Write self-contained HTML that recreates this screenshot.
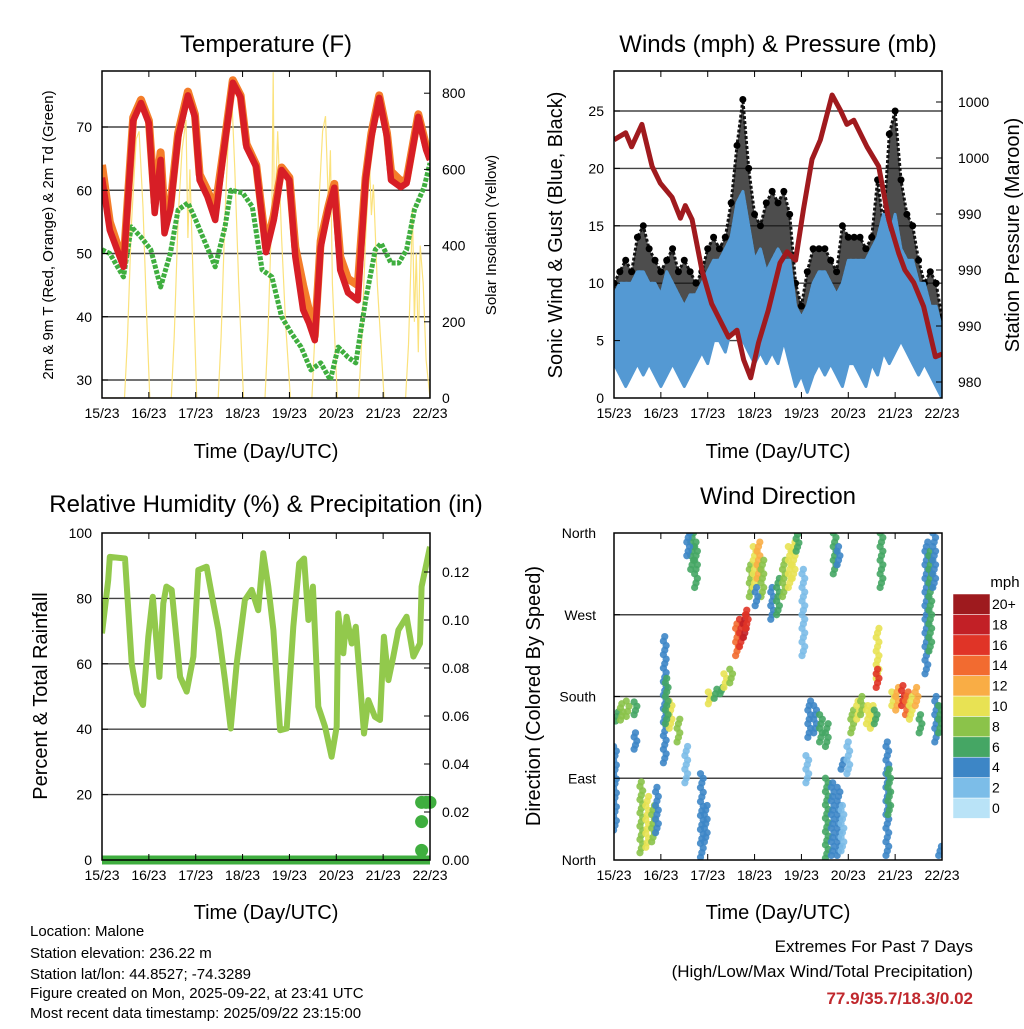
<!DOCTYPE html>
<html><head><meta charset="utf-8"><style>
body{margin:0;background:#fff;width:1024px;height:1024px;overflow:hidden}
svg text{font-family:"Liberation Sans",sans-serif;fill:#000}
</style></head><body>
<svg id="s" width="1024" height="1024" viewBox="0 0 1024 1024" xmlns="http://www.w3.org/2000/svg">
<defs>
<clipPath id="c1"><rect x="102" y="71" width="328" height="327"/></clipPath>
<clipPath id="c2"><rect x="614" y="71" width="328" height="327"/></clipPath>
<clipPath id="c3"><rect x="102" y="533" width="328" height="327"/></clipPath>
<clipPath id="c4"><rect x="614" y="533" width="328" height="327"/></clipPath>
</defs>
<text x="266" y="52" font-size="24" text-anchor="middle">Temperature (F)</text>
<text x="778" y="52" font-size="24" text-anchor="middle">Winds (mph) &amp; Pressure (mb)</text>
<text x="266" y="512" font-size="24" text-anchor="middle">Relative Humidity (%) &amp; Precipitation (in)</text>
<text x="778" y="504" font-size="24" text-anchor="middle">Wind Direction</text>
<text x="266" y="458" font-size="20" text-anchor="middle">Time (Day/UTC)</text>
<text x="778" y="458" font-size="20" text-anchor="middle">Time (Day/UTC)</text>
<text x="266" y="919" font-size="20" text-anchor="middle">Time (Day/UTC)</text>
<text x="778" y="919" font-size="20" text-anchor="middle">Time (Day/UTC)</text>
<text transform="translate(53,235) rotate(-90)" font-size="15" text-anchor="middle">2m &amp; 9m T (Red, Orange) &amp; 2m Td (Green)</text>
<text transform="translate(496,235) rotate(-90)" font-size="15" text-anchor="middle">Solar Insolation (Yellow)</text>
<text transform="translate(562,235) rotate(-90)" font-size="20" text-anchor="middle">Sonic Wind &amp; Gust (Blue, Black)</text>
<text transform="translate(1019,235) rotate(-90)" font-size="20" text-anchor="middle">Station Pressure (Maroon)</text>
<text transform="translate(47,696) rotate(-90)" font-size="20" text-anchor="middle">Percent &amp; Total Rainfall</text>
<text transform="translate(540,696) rotate(-90)" font-size="20" text-anchor="middle">Direction (Colored By Speed)</text>
<text x="1005" y="587" font-size="15" text-anchor="middle">mph</text>
<g font-size="15">
<text x="30" y="936">Location: Malone</text>
<text x="30" y="958">Station elevation: 236.22 m</text>
<text x="30" y="979">Station lat/lon: 44.8527; -74.3289</text>
<text x="30" y="998">Figure created on Mon, 2025-09-22, at 23:41 UTC</text>
<text x="30" y="1018">Most recent data timestamp: 2025/09/22 23:15:00</text>
</g>
<text x="973" y="952" font-size="17" text-anchor="end">Extremes For Past 7 Days</text>
<text x="973" y="977" font-size="17" text-anchor="end">(High/Low/Max Wind/Total Precipitation)</text>
<text x="973" y="1004" font-size="17" font-weight="bold" text-anchor="end" style="fill:#c0282d">77.9/35.7/18.3/0.02</text>
</svg>
<script>
const dayLabels=["15/23","16/23","17/23","18/23","19/23","20/23","21/23","22/23"];
const tempTicks=[30,40,50,60,70];
const solarTicks=[0,200,400,600,800];
const windTicks=[0,5,10,15,20,25];
const pressTicks=[982,986,990,994,998,1002];
const pressTickLabels=["980","990","990","990","1000","1000"];
const rhTicks=[0,20,40,60,80,100];
const rainTicks=[0,0.02,0.04,0.06,0.08,0.10,0.12];
const dirTicks=[0,90,180,270,360];
const dirTickLabels=["North","East","South","West","North"];

const tHours=[0,4,11,16,20,24,27,30,32,35,39,44,47.6,50,54,58,62,67,71,74,79,84,88,92,96,99,103,106,109,112,116,119,122,126,131,135,138,142,146,148,153,156,162,166,168];
const temp2m=[62,53.7,47.9,71,73.8,70.6,56.4,64.8,53.2,56.9,68.4,75,71.6,61.6,59,55.3,65.3,77,74.7,66.8,63.7,50.2,55.3,63.2,61.6,49.5,41.1,39,36.3,51,57,60.4,47.4,43.8,42.6,61.6,68.4,74.6,68.4,61.6,60.5,61.1,71.6,66.4,64.8];
const temp9m=[64,55,48.5,71.5,74.3,71,58,66,56,57.5,69,75.6,72,62.5,60,57,65.8,77.4,75,67.3,64,51,56,63.6,62,51,45,41,37,52,57.5,61,49.5,46,45,62,69,75,69,63,61.5,61.6,72,67,65];
const dHours=[0,4,11,15,20,25,30,35,39,44,48,53,58,63,66,72,77,82,87,92,97,102,107,112,117,121,126,130,135,140,143,148,152,156,160,165,168];
const dewpt=[50.6,50,46.3,54.2,52.6,50.6,44.7,50,56.9,58,55.3,51.6,47.9,54.2,60,59.6,57.4,47.4,46.3,40,37.4,35.2,31.6,32.7,30,35.2,33.6,32.7,42.6,50.6,51.6,48.5,48.5,50.6,56.9,60.5,64.3];
const solarHours=[0,11.5,13,15,17.5,19,21,23,24.5,35.5,37,39,41,43,44,45,47,48.5,59.5,61,63,65,66.5,68,70,72.5,83.5,85,87,87.7,88.3,90,92,94,96.5,107.5,109,111,113,114.5,116,117,118,120.5,131.5,133,135,137,138,139,141,144.5,155.5,157,158.5,159,160,161,162,163,164.5,166,168];
const solarVals=[0,0,150,450,680,700,500,200,0,0,160,470,650,730,420,600,250,0,0,160,480,720,790,600,300,0,0,170,500,855,450,700,420,200,0,0,160,500,700,740,500,650,300,0,0,150,420,620,480,560,300,0,0,140,400,500,200,380,120,400,300,100,0];

const wHours=[0,3,6,9,12,15,18,21,24,27,30,33,36,39,42,45,48,51,54,57,60,63,66,69,72,75,78,81,84,87,90,93,96,99,102,105,108,111,114,117,120,123,126,129,132,135,138,141,144,147,150,153,156,159,162,165,168];
const windHi=[9,10,10,10,11,11,10,10,9,11,10,9,8,9,9,10,11,12,12,13,14,17,18,15,12,13,11,12,13,12,12,8,7,8,10,11,11,10,9,10,12,12,12,12,13,14,16,14,16,13,12,12,10,10,8,8,6];
const windLo=[3,2,1,2,3,2,3,2,1,2,3,2,1,2,3,4,3,5,5,4,6,6,5,4,3,4,3,4,3,5,3,1,2,0.5,2,3,2,3,2,1,3,3,2,1,3,2,4,3,4,5,4,3,2,3,2,1,0];
const gustHi=[10,11,12,11,14,15,13,12,11,12,13,11,12,11,10,11,13,14,13,14,17,22,26,20,16,15,17,18,17,18,16,10,8,11,13,13,13,12,11,15,14,14,14,13,14,19,15,23,25,19,16,15,12,10,11,10,7];
const pHours=[0,6,9,14.3,19.5,23.7,29.7,34,36.5,40,45,50,58.7,63,66.4,70,74,79,85,88.6,93,97,101.4,105.7,111.7,116,119.3,122.8,129.6,135.6,140.7,145.8,149,153.5,158.6,164.6,168];
const pressure=[999.3,999.8,998.8,1000.4,997.4,996.2,995.2,993.7,994.6,993.6,990,987.6,985.2,985.7,983.6,982.3,984.8,987.1,990.5,991.3,990.7,994.3,997.9,999.3,1002.5,1001.4,1000.4,1000.7,998.8,997.4,993.6,991.2,990,989.1,987.4,983.8,984];

const rhHours=[0,3.2,4,11.8,15.2,17.8,21,23.7,26,29.4,31.4,33,35.7,40,43.4,46.8,49.3,53.6,57,59.6,63,65.9,69,73.2,76.7,80,82.6,85.2,87.8,91.2,94.6,98,101,103.5,105.7,108,110.8,114.2,117.6,120.2,121,123.6,125.3,127.9,130,134.2,136.4,139.8,142.4,144.4,146.7,149.2,151.8,156,159.5,162.9,163.7,168];
const rhVals=[69.3,85.6,92.7,92.2,60.1,51,47.4,68.3,80.5,56,78.5,83.6,82.6,56,51.5,62.2,88.7,89.7,78.5,70.3,55,40.2,60.1,79.5,82.6,76.4,93.8,83.6,70.3,39.7,40.2,71.3,90.7,92.2,73.4,83.6,46.9,40.8,31.6,40.8,75.4,63.2,74.4,66.2,71.3,38.7,48.9,43.8,42.8,68.3,55,62.2,70.3,74.4,62.2,66.2,83.6,95.8];
const rainHours=[163.7,163.7,163.7,166,168];
const rainVals=[0.004,0.016,0.024,0.024,0.024];

const dirHours=[1.5,0.5,4,7,11,11,14,17,20,22,26,29,33,27,37,40,42,38,45,47,49,52,55,57,60,63,65,67,68,70,72,74,76,73,81,84,87,90,92,94,97,100,103,106,109,99,109,112,115,117,113,115,117,120,122,125,127,130,132,134,135,135,137,140,141,143,145,148,150,152,155,157,160,162,164,165,167,167];
const dirStart=[153,33,154,158,160,122,8,14,20,30,107,145,130,150,85,320,300,335,3,20,172,178,183,190,195,225,235,245,255,290,300,310,290,280,265,270,290,300,310,340,225,135,140,130,125,85,2,5,5,10,315,325,100,95,140,155,160,150,145,150,200,190,300,5,50,170,165,170,160,155,170,140,205,230,300,130,140,5];
const dirEnd=[163,125,172,175,174,140,86,70,60,80,246,175,155,200,125,360,350,360,95,60,185,188,190,205,210,260,265,270,275,325,345,350,330,300,300,310,330,345,350,363,320,175,170,160,150,115,90,85,80,60,360,345,110,130,165,175,180,170,170,165,255,210,360,130,100,185,190,192,185,180,190,160,350,340,360,180,170,15];
const dirSpeed=[7,4,9,8,6,4,9,10,9,5,4,10,9,6,2,6,7,4,4,5,10,7,7,10,8,14,16,18,17,8,11,12,9,4,4,6,8,10,11,7,2,4,5,6,7,2,6,5,4,3,6,4,4,3,8,10,9,11,10,7,11,16,7,4,6,11,12,16,14,10,12,7,5,6,4,5,6,4];
const speedBins=["0","2","4","6","8","10","12","14","16","18","20+"];
const speedColors=["#b9e3f7","#7cbde8","#3d86c6","#45a664","#8bc34a","#e8e253","#f9ad45","#f26b30","#e03427","#c22026","#9e1a1e"];

const svg=document.getElementById('s');
const NS='http://www.w3.org/2000/svg';
function mk(tag,attrs,parent){const e=document.createElementNS(NS,tag);for(const k in attrs)e.setAttribute(k,attrs[k]);(parent||svg).appendChild(e);return e;}
function grp(clip){return mk('g',clip?{'clip-path':'url(#'+clip+')'}:{});}

const PX=[102,614],PY=[71,533],PW=328,PH=327;
function xOf(col,h){return PX[col]+h*PW/168;}
const yTemp=t=>380-(t-30)*6.325, ySolar=s=>398-s*0.381;
const yWind=v=>398-v*11.48, yPress=p=>382-(p-982)*14;
const yRH=r=>860-r*3.27, yRain=r=>860-r*2400, yDir=d=>860-d*0.9083;
function pts(col,hs,vs,yf){return hs.map((h,i)=>xOf(col,h).toFixed(1)+','+yf(vs[i]).toFixed(1)).join(' ');}

function hgrid(col,row,vals,yf,name){vals.forEach(v=>{const y=yf(v);if(y<=PY[row]+1||y>=PY[row]+PH-1)return;
 const l=mk('line',{x1:PX[col],x2:PX[col]+PW,y1:y,y2:y,stroke:'#444','stroke-width':1.4});
 
 });}
hgrid(0,0,tempTicks,yTemp,'temp-gridline');
hgrid(1,0,windTicks,yWind,'wind-gridline');
hgrid(0,1,[20,40,60,80],yRH,'rh-gridline');
hgrid(1,1,[90,180,270],yDir,'dir-gridline');

let g=grp('c1');


let e=mk('polyline',{points:pts(0,solarHours,solarVals,ySolar),fill:'none',stroke:'#fbe27c','stroke-width':1.2},g);


e=mk('polyline',{points:pts(0,dHours,dewpt,yTemp),fill:'none',stroke:'#3fae3f','stroke-width':5,'stroke-dasharray':'4 1.5','stroke-linejoin':'round'},g);


e=mk('polyline',{points:pts(0,tHours,temp9m,yTemp),fill:'none',stroke:'#f47d2a','stroke-width':8,'stroke-linejoin':'round'},g);


e=mk('polyline',{points:pts(0,tHours,temp2m,yTemp),fill:'none',stroke:'#d71e26','stroke-width':6.5,'stroke-linejoin':'round'},g);



g=grp('c2');


const gustPoly=pts(1,wHours,gustHi,yWind)+' '+pts(1,wHours.slice().reverse(),windHi.slice().reverse(),yWind);
e=mk('polygon',{points:gustPoly,fill:'#111','fill-opacity':0.75,stroke:'#111','stroke-width':3,'stroke-dasharray':'3 2','stroke-linejoin':'round'},g);


wHours.forEach((h,i)=>{const c=mk('circle',{cx:xOf(1,h),cy:yWind(gustHi[i]),r:3.5,fill:'#000'},g);
 
 });
const windPoly=pts(1,wHours,windHi,yWind)+' '+pts(1,wHours.slice().reverse(),windLo.slice().reverse(),yWind);
e=mk('polygon',{points:windPoly,fill:'#5499d3',stroke:'#5499d3','stroke-width':3,'stroke-linejoin':'round'},g);


e=mk('polyline',{points:pts(1,pHours,pressure,yPress),fill:'none',stroke:'#a01a1e','stroke-width':5,'stroke-linejoin':'round'},g);



g=grp('c3');


e=mk('polyline',{points:pts(0,rhHours,rhVals,yRH),fill:'none',stroke:'#92c94c','stroke-width':6,'stroke-linejoin':'round'},g);


e=mk('line',{x1:xOf(0,0),x2:xOf(0,168),y1:yRain(0),y2:yRain(0),stroke:'#3fae3f','stroke-width':9});


rainHours.forEach((h,i)=>{const c=mk('circle',{cx:xOf(0,h),cy:yRain(rainVals[i]),r:6.5,fill:'#3fae3f'});
 
 });

g=grp('c4');


dirHours.forEach((h,i)=>{const a=dirStart[i],b=dirEnd[i];const n=Math.max(2,Math.round((b-a)/5));
 const bin=Math.min(10,Math.floor(dirSpeed[i]/2));
 for(let k=0;k<=n;k++){const d=a+(b-a)*k/n;
  const c=mk('circle',{cx:xOf(1,h+((k%3)-1)*0.7),cy:yDir(d),r:3.6,fill:speedColors[bin],'fill-opacity':0.9},g);
  
  }});

speedBins.forEach((lab,i)=>{const j=10-i;const y=594+j*20.4;
 const r=mk('rect',{x:953,y:y,width:37,height:20.4,fill:speedColors[i],stroke:'#fff','stroke-width':0.5});
 
 
 const t=mk('text',{x:992,y:y+15,'font-size':14});t.textContent=lab;
 
 });

function frame(col,row){const r=mk('rect',{x:PX[col],y:PY[row],width:PW,height:PH,fill:'none',stroke:'#000','stroke-width':1.5});
 
 
 dayLabels.forEach((lab,i)=>{const x=xOf(col,i*24);
  const t1=mk('line',{x1:x,x2:x,y1:PY[row],y2:PY[row]+6,stroke:'#000','stroke-width':1});
  
  
  const t2=mk('line',{x1:x,x2:x,y1:PY[row]+PH,y2:PY[row]+PH-6,stroke:'#000','stroke-width':1});
  
  
  const t=mk('text',{x:x,y:PY[row]+PH+20,'font-size':14,'text-anchor':'middle'});t.textContent=lab;
  
  });}
frame(0,0);frame(1,0);frame(0,1);frame(1,1);
function yLabels(vals,labs,yf,x,anchor,tickX,dir,name){vals.forEach((v,i)=>{const y=yf(v);
 const l=mk('line',{x1:tickX,x2:tickX+dir*6,y1:y,y2:y,stroke:'#000','stroke-width':1});
 
 
 const t=mk('text',{x:x,y:y+5,'font-size':14,'text-anchor':anchor});t.textContent=labs[i];
 
 });}
yLabels(tempTicks,tempTicks.map(String),yTemp,92,'end',102,1,'temp-y');
yLabels(solarTicks,solarTicks.map(String),ySolar,442,'start',430,-1,'solar-y');
yLabels(windTicks,windTicks.map(String),yWind,604,'end',614,1,'wind-y');
yLabels(pressTicks,pressTickLabels,yPress,958,'start',942,-1,'pressure-y');
yLabels(rhTicks,rhTicks.map(String),yRH,92,'end',102,1,'rh-y');
yLabels(rainTicks,rainTicks.map(v=>v.toFixed(2)),yRain,442,'start',430,-1,'rain-y');
yLabels(dirTicks,dirTickLabels,yDir,596,'end',614,1,'dir-y');
</script>
</body></html>
